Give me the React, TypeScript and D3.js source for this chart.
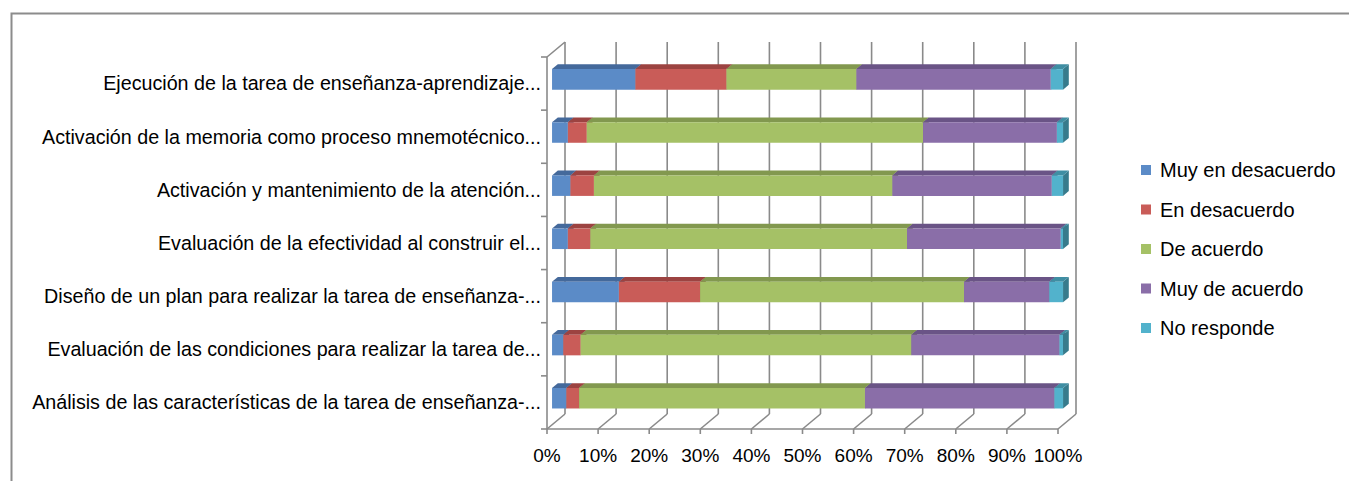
import React from "react";
import * as d3 from "d3";

// categories, top to bottom as drawn
const categories = [
  "Ejecución de la tarea de enseñanza-aprendizaje...",
  "Activación de la memoria como proceso mnemotécnico...",
  "Activación y mantenimiento de la atención...",
  "Evaluación de la efectividad al construir el...",
  "Diseño de un plan para realizar la tarea de enseñanza-...",
  "Evaluación de las condiciones para realizar la tarea de...",
  "Análisis de las características de la tarea de enseñanza-...",
];

const seriesNames = [
  "Muy en desacuerdo",
  "En desacuerdo",
  "De acuerdo",
  "Muy de acuerdo",
  "No responde",
];

// percentages
const muyEnDesacuerdo = [16.3, 3.1, 3.6, 3.1, 13.1, 2.2, 2.8];
const enDesacuerdo = [17.8, 3.7, 4.6, 4.4, 15.9, 3.4, 2.5];
const deAcuerdo = [25.4, 65.8, 58.4, 62.0, 51.7, 64.7, 56.0];
const muyDeAcuerdo = [38.0, 26.2, 31.2, 30.1, 16.7, 29.0, 37.1];
const noResponde = [2.4, 1.2, 2.2, 0.45, 2.7, 0.7, 1.7];

const tickLabels = ["0%", "10%", "20%", "30%", "40%", "50%", "60%", "70%", "80%", "90%", "100%"];

const frontColors = ["#5b8bc7", "#c95c58", "#a5c166", "#8a6ea8", "#52b2cc"];
const topColors = ["#44699b", "#9c4341", "#82984f", "#6a5486", "#3f8ea3"];
const sideColors = ["#3a5a85", "#853735", "#6e8242", "#5a4772", "#377b8c"];

const FONT = "'Liberation Sans', Arial, sans-serif";
const GRID = "#8a8a8a";

export default function App() {
  const width = 1349;
  const height = 481;

  // 3D box geometry (front plane + depth offset)
  const DX = 18;
  const DY = 15;
  const zFront = 0.28;
  const zBack = 0.6;

  const x = d3.scaleLinear().domain([0, 1]).range([547, 1058]);
  const y = d3.scaleBand<string>().domain(categories).range([57, 429]);
  const barH = y.bandwidth() * 0.386;

  const rows = categories.map((c, i) => ({
    cat: c,
    s0: muyEnDesacuerdo[i],
    s1: enDesacuerdo[i],
    s2: deAcuerdo[i],
    s3: muyDeAcuerdo[i],
    s4: noResponde[i],
  }));
  const keys = ["s0", "s1", "s2", "s3", "s4"];
  const layers = d3.stack<any>().keys(keys).offset(d3.stackOffsetExpand)(rows);

  const P = (px: number, py: number, z: number) => [px + DX * z, py - DY * z];
  const poly = (pts: number[][]) => pts.map((p) => p.join(",")).join(" ");

  const ticks = d3.range(0, 1.0001, 0.1);
  const yTop = 57;
  const yBot = 429;

  const bars: JSX.Element[] = [];
  categories.forEach((c, ci) => {
    const yc = (y(c) as number) + y.bandwidth() / 2;
    const yt = yc - barH / 2;
    const yb = yc + barH / 2;
    layers.forEach((layer, si) => {
      const d = layer[ci];
      const xa = x(d[0]);
      const xb = x(d[1]);
      if (xb - xa <= 0) return;
      const top = [P(xa, yt, zFront), P(xb, yt, zFront), P(xb, yt, zBack), P(xa, yt, zBack)];
      const side = [P(xb, yt, zFront), P(xb, yt, zBack), P(xb, yb, zBack), P(xb, yb, zFront)];
      const front = [P(xa, yt, zFront), P(xb, yt, zFront), P(xb, yb, zFront), P(xa, yb, zFront)];
      bars.push(
        <g key={`${ci}-${si}`}>
          <polygon points={poly(side)} fill={sideColors[si]} />
          <polygon points={poly(top)} fill={topColors[si]} />
          <polygon points={poly(front)} fill={frontColors[si]} />
        </g>
      );
    });
  });

  return (
    <svg
      width={width}
      height={height}
      style={{ position: "absolute", left: 0, top: 0, background: "#fff" }}
    >
      {/* chart frame, runs off the right and bottom */}
      <rect x={11.5} y={13.5} width={1400} height={600} fill="#fff" stroke="#8c8c8c" strokeWidth={2} />

      {/* back wall gridlines */}
      {ticks.map((t, i) => {
        const [bx, by0] = P(x(t), yTop, 1);
        const [, by1] = P(x(t), yBot, 1);
        return <line key={"g" + i} x1={bx} x2={bx} y1={by0} y2={by1} stroke={GRID} strokeWidth={1.6} />;
      })}
      {/* floor lines */}
      {ticks.map((t, i) => {
        const [fx, fy] = P(x(t), yBot, 0);
        const [bx, by] = P(x(t), yBot, 1);
        return <line key={"f" + i} x1={fx} x2={bx} y1={fy} y2={by} stroke={GRID} strokeWidth={1.6} />;
      })}
      {/* left wall top edge */}
      <line
        x1={x(0)}
        y1={yTop}
        x2={P(x(0), yTop, 1)[0]}
        y2={P(x(0), yTop, 1)[1]}
        stroke={GRID}
        strokeWidth={1.6}
      />
      {/* vertical category axis */}
      <line x1={x(0)} x2={x(0)} y1={yTop} y2={yBot} stroke={GRID} strokeWidth={1.6} />
      {[...categories.map((c) => y(c) as number), yBot].map((v, i) => (
        <line key={"ct" + i} x1={x(0) - 6} x2={x(0)} y1={v} y2={v} stroke={GRID} strokeWidth={1.6} />
      ))}
      {/* horizontal value axis */}
      <line x1={x(0)} x2={x(1)} y1={yBot} y2={yBot} stroke={GRID} strokeWidth={1.6} />
      {ticks.map((t, i) => (
        <line key={"xt" + i} x1={x(t)} x2={x(t)} y1={yBot} y2={yBot + 5} stroke={GRID} strokeWidth={1.6} />
      ))}

      {bars}

      {/* category labels */}
      {categories.map((c) => (
        <text
          key={c}
          x={x(0) - 6}
          y={(y(c) as number) + y.bandwidth() / 2}
          dy="0.35em"
          textAnchor="end"
          fontFamily={FONT}
          fontSize={19.7}
          fill="#000"
        >
          {c}
        </text>
      ))}

      {/* value tick labels */}
      {ticks.map((t, i) => (
        <text
          key={"tl" + i}
          x={x(t)}
          y={462}
          textAnchor="middle"
          fontFamily={FONT}
          fontSize={19}
          fill="#000"
        >
          {tickLabels[i]}
        </text>
      ))}

      {/* legend */}
      {seriesNames.map((n, i) => {
        const cy = 170 + i * 39.5;
        return (
          <g key={n}>
            <rect x={1141} y={cy - 5} width={10} height={10} fill={frontColors[i]} />
            <text x={1160} y={cy} dy="0.35em" fontFamily={FONT} fontSize={20} fill="#000">
              {n}
            </text>
          </g>
        );
      })}
    </svg>
  );
}
